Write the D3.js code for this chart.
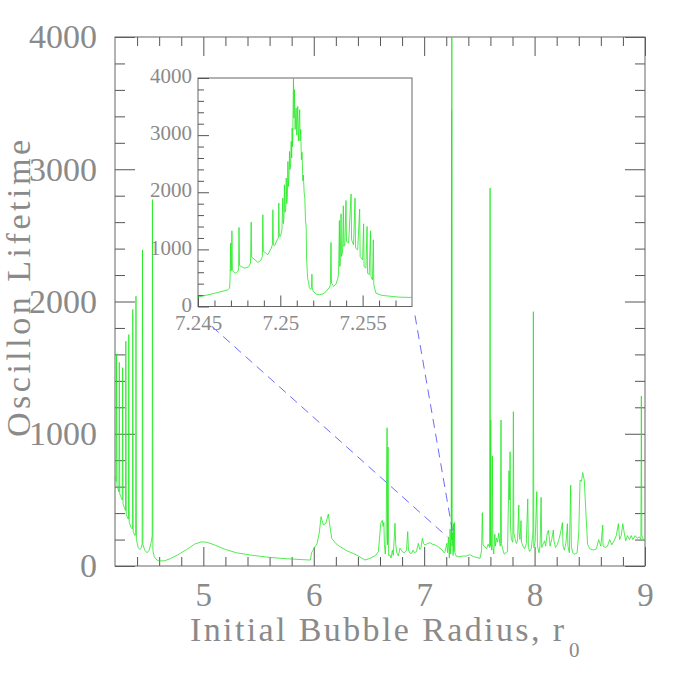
<!DOCTYPE html>
<html>
<head>
<meta charset="utf-8">
<script src="https://cdn.jsdelivr.net/npm/d3@7"></script>
<style>
  body { margin: 0; background: #fff; }
  svg text { font-family: "Liberation Serif", "DejaVu Serif", serif; fill: #8a8a8a; }
</style>
</head>
<body>
<div id="chart"></div>
<script>
// full scan: [initial radius r0, oscillon lifetime]
const mainCurve = [
  [4.200, 680], [4.210, 640], [4.214, 1600], [4.218, 610], [4.225, 590], [4.235, 560], [4.239, 1540],
  [4.243, 545], [4.255, 520], [4.266, 500], [4.269, 1500], [4.273, 470], [4.285, 440], [4.295, 420],
  [4.298, 1700], [4.302, 390], [4.315, 360], [4.322, 355], [4.325, 1750], [4.329, 330], [4.345, 290],
  [4.358, 280], [4.361, 1940], [4.365, 260], [4.380, 230], [4.387, 240], [4.390, 2040], [4.394, 200],
  [4.410, 140], [4.425, 125], [4.440, 140], [4.446, 170], [4.449, 2390], [4.453, 160], [4.470, 120],
  [4.490, 100], [4.510, 120], [4.530, 190], [4.537, 230], [4.539, 2770], [4.543, 120], [4.555, 70],
  [4.580, 45], [4.600, 38], [4.650, 40], [4.700, 55], [4.770, 85], [4.850, 125], [4.920, 165],
  [4.980, 182], [5.030, 180], [5.100, 160], [5.200, 125], [5.300, 100], [5.450, 80], [5.600, 65],
  [5.750, 55], [5.900, 48], [5.970, 45], [5.980, 100], [6.030, 171], [6.050, 250], [6.066, 373],
  [6.087, 310], [6.110, 323], [6.132, 393], [6.147, 297], [6.163, 209], [6.200, 170], [6.238, 146],
  [6.300, 115], [6.389, 83], [6.464, 45], [6.510, 58], [6.560, 80], [6.585, 108], [6.607, 323],
  [6.620, 345], [6.628, 300], [6.635, 330], [6.640, 160], [6.648, 90], [6.655, 200], [6.664, 1045],
  [6.668, 160], [6.673, 900], [6.678, 80], [6.691, 83], [6.700, 60], [6.712, 120], [6.720, 80],
  [6.736, 323], [6.742, 170], [6.752, 100], [6.766, 76], [6.781, 134], [6.800, 110], [6.820, 100],
  [6.840, 120], [6.851, 260], [6.858, 121], [6.872, 96], [6.887, 96], [6.900, 120], [6.912, 100],
  [6.930, 110], [6.947, 171], [6.960, 125], [6.972, 140], [6.984, 209], [6.995, 170], [7.008, 159],
  [7.030, 170], [7.053, 176], [7.075, 165], [7.099, 159], [7.120, 150], [7.144, 134], [7.165, 120],
  [7.180, 100], [7.189, 108], [7.205, 171], [7.212, 100], [7.220, 220], [7.228, 60], [7.235, 280],
  [7.240, 90], [7.245, 250], [7.248, 3450], [7.2495, 200], [7.2505, 4000], [7.252, 150], [7.258, 250],
  [7.262, 80], [7.266, 320], [7.270, 110], [7.274, 330], [7.278, 100], [7.290, 75], [7.310, 70],
  [7.350, 75], [7.386, 76], [7.413, 86], [7.450, 70], [7.506, 58], [7.520, 120], [7.527, 403],
  [7.533, 160], [7.550, 146], [7.565, 130], [7.580, 165], [7.593, 140], [7.597, 2858], [7.600, 150],
  [7.603, 1104], [7.607, 160], [7.612, 120], [7.618, 832], [7.622, 150], [7.630, 90], [7.640, 240],
  [7.645, 150], [7.655, 210], [7.665, 180], [7.675, 250], [7.685, 170], [7.690, 150], [7.696, 1104],
  [7.700, 170], [7.710, 130], [7.725, 90], [7.740, 100], [7.755, 110], [7.768, 720], [7.775, 500],
  [7.778, 864], [7.782, 300], [7.790, 200], [7.803, 180], [7.808, 1167], [7.812, 250], [7.825, 200],
  [7.835, 170], [7.845, 190], [7.857, 461], [7.860, 250], [7.868, 200], [7.877, 343], [7.882, 180],
  [7.895, 150], [7.910, 130], [7.925, 170], [7.938, 507], [7.944, 140], [7.955, 110], [7.970, 130],
  [7.985, 250], [7.989, 1923], [7.993, 140], [8.005, 180], [8.020, 562], [8.026, 150], [8.040, 100],
  [8.050, 160], [8.059, 519], [8.065, 140], [8.080, 170], [8.090, 190], [8.100, 150], [8.115, 250],
  [8.125, 270], [8.135, 200], [8.140, 150], [8.155, 200], [8.170, 272], [8.175, 190], [8.190, 140],
  [8.205, 160], [8.220, 200], [8.235, 250], [8.252, 328], [8.258, 150], [8.270, 120], [8.285, 180],
  [8.297, 320], [8.302, 150], [8.315, 100], [8.327, 612], [8.333, 150], [8.345, 100], [8.365, 90],
  [8.385, 100], [8.400, 250], [8.412, 650], [8.425, 640], [8.436, 706], [8.450, 650], [8.465, 400],
  [8.480, 165], [8.500, 130], [8.533, 121], [8.560, 130], [8.580, 200], [8.600, 150], [8.617, 310],
  [8.620, 150], [8.640, 140], [8.660, 150], [8.680, 200], [8.700, 160], [8.720, 190], [8.740, 230],
  [8.759, 320], [8.770, 200], [8.785, 230], [8.799, 320], [8.810, 260], [8.825, 190], [8.840, 230],
  [8.860, 200], [8.875, 230], [8.890, 200], [8.910, 230], [8.930, 210], [8.950, 220], [8.963, 200],
  [8.967, 1285], [8.971, 230], [8.985, 200], [9.000, 195]
];

// zoom around r0 = 7.25
const insetCurve = [
  [7.2450, 165], [7.2460, 230], [7.2468, 290], [7.24692, 320], [7.24695, 500], [7.24698, 1110],
  [7.24700, 620], [7.24703, 640], [7.24706, 1325], [7.24709, 643], [7.24715, 610], [7.24726, 584],
  [7.24735, 595], [7.24743, 613], [7.24747, 680], [7.24749, 1384], [7.24752, 720], [7.24763, 701],
  [7.24783, 672], [7.24805, 690], [7.24813, 720], [7.24819, 760], [7.24823, 1477], [7.24826, 860],
  [7.24834, 847], [7.24864, 771], [7.24884, 817], [7.24891, 880], [7.24894, 1605], [7.24897, 960],
  [7.24908, 946], [7.24924, 905], [7.24945, 1021], [7.24952, 1080], [7.24955, 1693], [7.24958, 1080],
  [7.24965, 1062], [7.24981, 1167], [7.24988, 1200], [7.24991, 1810], [7.24994, 1230], [7.25001, 1226],
  [7.25010, 1343], [7.25015, 1898], [7.25018, 1450], [7.25022, 1547], [7.25025, 2131], [7.25028, 1650],
  [7.25033, 1693], [7.25036, 2248], [7.25039, 1800], [7.25043, 1927], [7.25046, 2539], [7.25049, 2100],
  [7.25053, 2277], [7.25056, 2714], [7.25059, 2400], [7.25063, 2510], [7.25066, 2889], [7.25069, 2600],
  [7.25072, 3124], [7.25074, 2800], [7.25076, 2977], [7.25078, 3562], [7.25080, 4000], [7.25083, 3300],
  [7.25086, 3794], [7.25090, 3100], [7.25096, 3474], [7.25100, 3000], [7.25106, 3502], [7.25110, 2900],
  [7.25118, 3444], [7.25120, 2900], [7.25124, 3100], [7.25128, 2569], [7.25132, 2700], [7.25137, 2200],
  [7.25140, 2300], [7.25145, 1986], [7.25149, 1900], [7.25153, 1500], [7.25157, 1401], [7.25160, 818],
  [7.25164, 600], [7.25167, 470], [7.25172, 430], [7.25176, 330], [7.25185, 300], [7.25190, 330],
  [7.25192, 567], [7.25194, 330], [7.25200, 263], [7.25220, 215], [7.25238, 205], [7.25260, 220],
  [7.25278, 263], [7.25300, 340], [7.25304, 380], [7.25308, 1121], [7.25311, 409], [7.25324, 351],
  [7.25339, 397], [7.25350, 500], [7.25354, 584], [7.25359, 1506], [7.25361, 700], [7.25364, 720],
  [7.25369, 1623], [7.25372, 876], [7.25378, 950], [7.25383, 1763], [7.25386, 1051], [7.25392, 1100],
  [7.25399, 1856], [7.25402, 1139], [7.25415, 1110], [7.25430, 1968], [7.25433, 1168], [7.25445, 1080],
  [7.25454, 1898], [7.25457, 1022], [7.25470, 992], [7.25482, 1705], [7.25485, 876], [7.25500, 817],
  [7.25506, 1448], [7.25509, 700], [7.25520, 672], [7.25527, 1401], [7.25530, 584], [7.25540, 555],
  [7.25548, 1326], [7.25551, 526], [7.25560, 467], [7.25565, 1168], [7.25568, 380], [7.25581, 234],
  [7.25610, 200], [7.25642, 187], [7.25722, 164], [7.25800, 158]
];

const mainXDomain = [4.2, 9];
const mainYDomain = [0, 4000];
const mainXLabels = [5, 6, 7, 8, 9];
const mainYLabels = [0, 1000, 2000, 3000, 4000];
const insetXDomain = [7.245, 7.258];
const insetXLabels = [7.245, 7.25, 7.255];
const insetYLabels = [0, 1000, 2000, 3000, 4000];
// dashed guide lines end here on the main plot (data units)
const guideEnds = [[7.21, 220], [7.255, 270]];

const W = 681, H = 681;
const svg = d3.select("#chart").append("svg")
  .attr("width", W).attr("height", H);

const m = { left: 115, right: 645, top: 37, bottom: 566 };
const x = d3.scaleLinear().domain(mainXDomain).range([m.left, m.right]);
const y = d3.scaleLinear().domain(mainYDomain).range([m.bottom, m.top]);

const tickCol = "#555";
const textCol = "#8a8a8a";

// puts a tick-only axis (no domain line) on the svg
function ticks(axis, tx, ty, vals, len, fmt) {
  const g = svg.append("g")
    .attr("transform", "translate(" + tx + "," + ty + ")")
    .call(axis.tickValues(vals).tickSize(-len).tickFormat(fmt || ""));
  g.select(".domain").remove();
  g.selectAll("line").attr("stroke", tickCol);
  return g;
}

const xMinor = d3.range(4.4, 9.0, 0.2).filter(v => Math.abs(v - Math.round(v)) > 0.01);
const yMinor = d3.range(200, 4000, 200).filter(v => v % 1000 !== 0);

// main axes, ticks on all four sides pointing in
ticks(d3.axisBottom(x), 0, m.bottom, xMinor, 9);
ticks(d3.axisTop(x), 0, m.top, xMinor, 9);
ticks(d3.axisTop(x), 0, m.top, mainXLabels, 19);
ticks(d3.axisLeft(y), m.left, 0, yMinor, 10);
ticks(d3.axisRight(y), m.right, 0, yMinor, 10);
ticks(d3.axisRight(y), m.right, 0, mainYLabels, 20);

const gx = ticks(d3.axisBottom(x), 0, m.bottom, mainXLabels, 19, d3.format("d"));
gx.selectAll("text").attr("y", 17).style("font-size", "33px").attr("fill", textCol);
const gy = ticks(d3.axisLeft(y), m.left, 0, mainYLabels, 20, d3.format("d"));
gy.selectAll("text").attr("x", -18).style("font-size", "34px").attr("fill", textCol);

svg.append("rect")
  .attr("x", m.left).attr("y", m.top)
  .attr("width", m.right - m.left).attr("height", m.bottom - m.top)
  .attr("fill", "none").attr("stroke", "#666").attr("stroke-width", 1);

// axis titles
svg.append("text")
  .attr("x", 190).attr("y", 641)
  .attr("textLength", 374).attr("lengthAdjust", "spacing")
  .style("font-size", "34px")
  .text("Initial Bubble Radius, r");
svg.append("text")
  .attr("x", 569).attr("y", 657)
  .style("font-size", "21px")
  .text("0");
svg.append("text")
  .attr("transform", "translate(30,437) rotate(-90)")
  .attr("textLength", 297).attr("lengthAdjust", "spacing")
  .style("font-size", "34px")
  .text("Oscillon Lifetime");

// main curve
const lineMain = d3.line().x(d => x(d[0])).y(d => y(d[1]));
svg.append("path")
  .datum(mainCurve)
  .attr("d", lineMain)
  .attr("fill", "none")
  .attr("stroke", "#22e822")
  .attr("stroke-width", 0.8);

// inset
const ins = { left: 198, right: 412, top: 78, bottom: 306.5 };
const xi = d3.scaleLinear().domain(insetXDomain).range([ins.left, ins.right]);
const yi = d3.scaleLinear().domain(mainYDomain).range([ins.bottom, ins.top]);

// dashed guides from the inset to the zoomed spot
const guideStarts = [[ins.left + 14, ins.bottom + 20], [ins.right + 3, ins.bottom + 9]];
guideEnds.forEach((e, i) => {
  svg.append("line")
    .attr("x1", guideStarts[i][0]).attr("y1", guideStarts[i][1])
    .attr("x2", x(e[0])).attr("y2", y(e[1]))
    .attr("stroke", "#5a5aff").attr("stroke-width", 0.9)
    .attr("stroke-dasharray", "9,6");
});

svg.append("rect")
  .attr("x", ins.left).attr("y", ins.top)
  .attr("width", ins.right - ins.left).attr("height", ins.bottom - ins.top)
  .attr("fill", "#fff").attr("stroke", "#666").attr("stroke-width", 1);

const xiMinor = d3.range(7.246, 7.258, 0.001).filter(v => Math.abs(v * 200 - Math.round(v * 200)) > 0.01);
ticks(d3.axisBottom(xi), 0, ins.bottom, xiMinor, 6);
ticks(d3.axisLeft(yi), ins.left, 0, yMinor, 6);
const gxi = ticks(d3.axisBottom(xi), 0, ins.bottom, insetXLabels, 11, d3.format(""));
gxi.selectAll("text").attr("y", 9).style("font-size", "21px").attr("fill", textCol);
const gyi = ticks(d3.axisLeft(yi), ins.left, 0, insetYLabels, 11, d3.format("d"));
gyi.selectAll("text").attr("x", -6).attr("dy", "0.22em").style("font-size", "21px").attr("fill", textCol);

const lineInset = d3.line().x(d => xi(d[0])).y(d => yi(d[1]));
svg.append("path")
  .datum(insetCurve)
  .attr("d", lineInset)
  .attr("fill", "none")
  .attr("stroke", "#22e822")
  .attr("stroke-width", 0.8);
</script>
</body>
</html>
